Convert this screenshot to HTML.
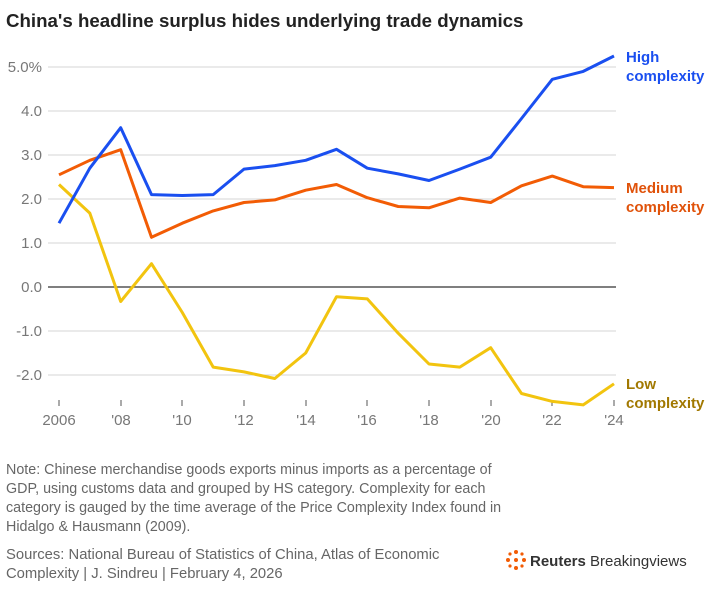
<!DOCTYPE html>
<html><head><meta charset="utf-8"><style>
body{margin:0;background:#fff;width:710px;height:588px;overflow:hidden;font-family:"Liberation Sans",sans-serif;}
</style></head><body>
<svg width="710" height="588" xmlns="http://www.w3.org/2000/svg" font-family="Liberation Sans, sans-serif">
<text x="6" y="27" font-size="18.7" font-weight="bold" fill="#222">China's headline surplus hides underlying trade dynamics</text>
<g stroke="#d4d4d4" stroke-width="1">
<line x1="48" x2="616" y1="67" y2="67"/><line x1="48" x2="616" y1="111" y2="111"/><line x1="48" x2="616" y1="155" y2="155"/><line x1="48" x2="616" y1="199" y2="199"/><line x1="48" x2="616" y1="243" y2="243"/><line x1="48" x2="616" y1="331" y2="331"/><line x1="48" x2="616" y1="375" y2="375"/>
</g>
<line x1="48" x2="616" y1="287" y2="287" stroke="#333" stroke-width="1.2"/>
<g font-size="15" fill="#777" text-anchor="end">
<text x="42" y="72">5.0%</text><text x="42" y="116">4.0</text><text x="42" y="160">3.0</text><text x="42" y="204">2.0</text><text x="42" y="248">1.0</text><text x="42" y="292">0.0</text><text x="42" y="336">-1.0</text><text x="42" y="380">-2.0</text>
</g>
<g stroke="#555" stroke-width="1">
<line x1="59" x2="59" y1="400" y2="406"/><line x1="121" x2="121" y1="400" y2="406"/><line x1="182" x2="182" y1="400" y2="406"/><line x1="244" x2="244" y1="400" y2="406"/><line x1="306" x2="306" y1="400" y2="406"/><line x1="367" x2="367" y1="400" y2="406"/><line x1="429" x2="429" y1="400" y2="406"/><line x1="491" x2="491" y1="400" y2="406"/><line x1="552" x2="552" y1="400" y2="406"/><line x1="614" x2="614" y1="400" y2="406"/>
</g>
<g font-size="15" fill="#777" text-anchor="middle">
<text x="59" y="425">2006</text><text x="121" y="425">'08</text><text x="182" y="425">'10</text><text x="244" y="425">'12</text><text x="306" y="425">'14</text><text x="367" y="425">'16</text><text x="429" y="425">'18</text><text x="491" y="425">'20</text><text x="552" y="425">'22</text><text x="614" y="425">'24</text>
</g>
<polyline fill="none" stroke="#f2c40f" stroke-width="3" stroke-linejoin="round" points="59,184.5 89.8,213.1 120.7,301.5 151.5,263.7 182.3,312.5 213.2,367.1 244,371.9 274.8,378.5 305.7,353 336.5,296.7 367.3,298.9 398.2,333.2 429,364 459.8,367.1 490.7,347.7 521.5,393.5 552.3,401.4 583.2,404.9 614,383.8"/>
<polyline fill="none" stroke="#f25c05" stroke-width="3" stroke-linejoin="round" points="59,174.8 89.8,160.3 120.7,149.7 151.5,237.3 182.3,223.2 213.2,210.9 244,202.5 274.8,199.9 305.7,190.2 336.5,184.5 367.3,197.7 398.2,206.5 429,207.8 459.8,198.1 490.7,202.5 521.5,185.8 552.3,176.1 583.2,186.7 614,187.6"/>
<polyline fill="none" stroke="#1a4ff0" stroke-width="3" stroke-linejoin="round" points="59,223.2 89.8,168.2 120.7,127.7 151.5,194.6 182.3,195.5 213.2,194.6 244,169.1 274.8,165.6 305.7,160.3 336.5,149.3 367.3,168.2 398.2,173.9 429,180.5 459.8,169.1 490.7,157.2 521.5,118.5 552.3,79.3 583.2,71.4 614,56"/>
<g font-size="15" font-weight="bold">
<text x="626" y="62" fill="#1a4ff0">High</text><text x="626" y="81" fill="#1a4ff0">complexity</text>
<text x="626" y="193" fill="#e0520a">Medium</text><text x="626" y="212" fill="#e0520a">complexity</text>
<text x="626" y="389" fill="#a17800">Low</text><text x="626" y="408" fill="#a17800">complexity</text>
</g>
<g font-size="14.3" fill="#666">
<text x="6" y="474">Note: Chinese merchandise goods exports minus imports as a percentage of</text>
<text x="6" y="493">GDP, using customs data and grouped by HS category. Complexity for each</text>
<text x="6" y="512">category is gauged by the time average of the Price Complexity Index found in</text>
<text x="6" y="531">Hidalgo &amp; Hausmann (2009).</text>
</g>
<g font-size="14.8" fill="#666">
<text x="6" y="559">Sources: National Bureau of Statistics of China, Atlas of Economic</text>
<text x="6" y="578">Complexity | J. Sindreu | February 4, 2026</text>
</g>
<g fill="#f25c05">
<circle cx="516" cy="560" r="2"/><circle cx="524" cy="560" r="2"/><circle cx="508" cy="560" r="2"/><circle cx="516" cy="552" r="2"/><circle cx="516" cy="568" r="2"/><circle cx="510" cy="554" r="1.6"/><circle cx="522" cy="554" r="1.6"/><circle cx="510" cy="566" r="1.6"/><circle cx="522" cy="566" r="1.6"/>
</g>
<text x="530" y="566" font-size="15" fill="#333"><tspan font-weight="bold">Reuters</tspan> Breakingviews</text>
</svg>
</body></html>
